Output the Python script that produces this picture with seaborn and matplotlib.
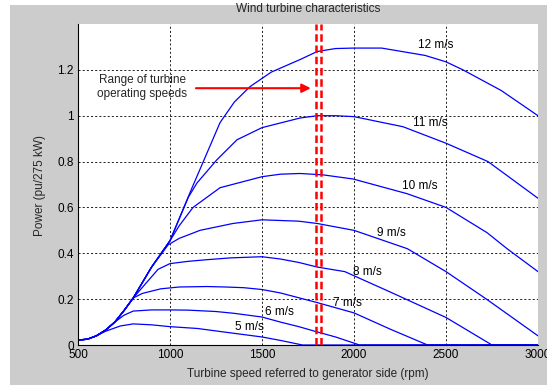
import matplotlib
matplotlib.use("Agg")
import matplotlib.pyplot as plt
from matplotlib.patches import Rectangle
import seaborn as sns
import pandas as pd

# Power curves of the wind turbine, one per wind speed (rpm, pu power)
rpm_5 = [500, 550, 600, 650, 730, 800, 900, 1000, 1150, 1300, 1500, 1600, 1720, 3000]
pw_5 = [0.022, 0.025, 0.04, 0.06, 0.083, 0.092, 0.088, 0.08, 0.072, 0.056, 0.035, 0.02, 0.0, 0.0]

rpm_6 = [500, 550, 600, 650, 700, 750, 800, 900, 1000, 1100, 1250, 1350, 1500, 1600, 1700,
         1800, 1900, 2030, 3000]
pw_6 = [0.022, 0.025, 0.04, 0.065, 0.10, 0.13, 0.148, 0.153, 0.153, 0.152, 0.146, 0.138, 0.122,
        0.10, 0.08, 0.057, 0.035, 0.0, 0.0]

rpm_7 = [500, 550, 600, 650, 700, 750, 800, 850, 950, 1050, 1200, 1300, 1400, 1500, 1600,
         1800, 2000, 2200, 2400, 3000]
pw_7 = [0.022, 0.025, 0.04, 0.065, 0.10, 0.15, 0.205, 0.225, 0.245, 0.253, 0.255, 0.253, 0.25,
        0.242, 0.227, 0.185, 0.14, 0.068, 0.0, 0.0]

rpm_8 = [500, 550, 600, 650, 700, 750, 800, 870, 935, 1000, 1100, 1200, 1330, 1500, 1600,
         1700, 1800, 1950, 2200, 2500, 2750, 3000]
pw_8 = [0.022, 0.025, 0.04, 0.065, 0.10, 0.15, 0.205, 0.27, 0.33, 0.355, 0.365, 0.372, 0.38,
        0.385, 0.375, 0.36, 0.34, 0.32, 0.23, 0.12, 0.0, 0.0]

rpm_9 = [500, 550, 600, 650, 700, 750, 800, 900, 990, 1050, 1163, 1342, 1500, 1700, 1800,
         2000, 2290, 2500, 2720, 3000]
pw_9 = [0.022, 0.025, 0.04, 0.065, 0.10, 0.15, 0.205, 0.34, 0.437, 0.465, 0.50, 0.53, 0.546,
        0.54, 0.53, 0.50, 0.42, 0.32, 0.20, 0.04]

rpm_10 = [500, 550, 600, 650, 700, 750, 800, 900, 1000, 1050, 1125, 1272, 1500, 1600, 1707,
          1832, 1995, 2288, 2500, 2723, 2832, 3000]
pw_10 = [0.022, 0.025, 0.04, 0.065, 0.10, 0.15, 0.205, 0.34, 0.455, 0.52, 0.60, 0.686, 0.734,
         0.745, 0.748, 0.742, 0.724, 0.66, 0.60, 0.49, 0.42, 0.32]

rpm_11 = [500, 550, 600, 650, 700, 750, 800, 900, 1000, 1100, 1147, 1255, 1364, 1500, 1707,
          1800, 1900, 2000, 2266, 2500, 2728, 3000]
pw_11 = [0.022, 0.025, 0.04, 0.065, 0.10, 0.15, 0.205, 0.34, 0.455, 0.645, 0.707, 0.808, 0.895,
         0.948, 0.99, 1.0, 1.0, 0.996, 0.952, 0.88, 0.80, 0.64]

rpm_12 = [500, 550, 600, 650, 700, 750, 800, 900, 1000, 1120, 1272, 1350, 1435, 1550, 1707,
          1800, 1900, 2000, 2150, 2386, 2500, 2592, 2800, 3000]
pw_12 = [0.022, 0.025, 0.04, 0.065, 0.10, 0.15, 0.205, 0.34, 0.455, 0.686, 0.97, 1.06, 1.127,
         1.19, 1.245, 1.28, 1.293, 1.295, 1.295, 1.263, 1.235, 1.20, 1.11, 1.0]

wind_labels = ["5 m/s", "6 m/s", "7 m/s", "8 m/s", "9 m/s", "10 m/s", "11 m/s", "12 m/s"]
curve_rpm = [rpm_5, rpm_6, rpm_7, rpm_8, rpm_9, rpm_10, rpm_11, rpm_12]
curve_pw = [pw_5, pw_6, pw_7, pw_8, pw_9, pw_10, pw_11, pw_12]

# Label anchor (left edge) for each curve
label_rpm = [1353, 1516, 1886, 1995, 2125, 2261, 2320, 2350]
label_pw = [0.077, 0.143, 0.185, 0.32, 0.49, 0.694, 0.97, 1.31]

# Operating speed band
band_rpm = [1792, 1820]

x_ticks = [500, 1000, 1500, 2000, 2500, 3000]
y_ticks = [0, 0.2, 0.4, 0.6, 0.8, 1.0, 1.2]
y_tick_labels = ["0", "0.2", "0.4", "0.6", "0.8", "1", "1.2"]

frames = []
for lab, xs, ys in zip(wind_labels, curve_rpm, curve_pw):
    frames.append(pd.DataFrame({"rpm": xs, "power": ys, "wind": lab}))
df = pd.concat(frames, ignore_index=True)

sns.set_style("white")
plt.rcParams["font.family"] = ["Liberation Sans", "DejaVu Sans"]

W, H = 547, 385
fig = plt.figure(figsize=(W / 100, H / 100), dpi=100)
fig.patch.set_facecolor("white")
fig.patches.append(Rectangle((10 / W, 0), 1 - 10 / W, 1 - 5 / H, transform=fig.transFigure,
                             facecolor="#cccccc", edgecolor="none", zorder=-10))

ax = fig.add_axes([78 / W, 1 - 345 / H, (538 - 78) / W, (345 - 24) / H])
ax.set_facecolor("white")

sns.lineplot(data=df, x="rpm", y="power", hue="wind", palette=["#0000ff"] * len(wind_labels),
             estimator=None, sort=False, legend=False, linewidth=0.9, ax=ax)

for r in band_rpm:
    ax.axvline(r, color="red", linestyle=(0, (3, 1.5)), linewidth=1.8, zorder=3)

for lab, lx, ly in zip(wind_labels, label_rpm, label_pw):
    ax.text(lx, ly, lab, fontsize=8.5, ha="left", va="center", color="black")

ax.text(848, 1.125, "Range of turbine\noperating speeds", fontsize=8.5, ha="center",
        va="center", linespacing=1.15)
ax.annotate("", xy=(1765, 1.12), xytext=(1141, 1.12),
            arrowprops=dict(arrowstyle="-|>", color="red", lw=1.5, mutation_scale=13,
                            shrinkA=0, shrinkB=0))

ax.set_xlim(500, 3000)
ax.set_ylim(0, 1.4)
ax.set_xticks(x_ticks)
ax.set_yticks(y_ticks)
ax.set_yticklabels(y_tick_labels)
ax.tick_params(direction="in", length=4, width=0.6, labelsize=8.5, colors="black",
               top=False, right=False, pad=3)
ax.grid(True, color="black", linestyle=(0, (2.5, 2.5)), linewidth=0.6)
ax.set_axisbelow(True)
for side in ["top", "right"]:
    ax.spines[side].set_visible(False)
ax.spines["left"].set_color("black")
ax.spines["bottom"].set_color("black")
ax.spines["left"].set_linewidth(0.8)
ax.set_xlabel("")
ax.set_ylabel("")

fig.text(308 / W, 1 - 9 / H, "Wind turbine characteristics", fontsize=8.5, ha="center",
         va="center")
fig.text(308 / W, 1 - 374 / H, "Turbine speed referred to generator side (rpm)", fontsize=8.5,
         ha="center", va="center")
fig.text(40 / W, 1 - 185 / H, "Power (pu/275 kW)", fontsize=8.5, ha="center", va="center",
         rotation=90)

fig.savefig("out.png", dpi=100)
